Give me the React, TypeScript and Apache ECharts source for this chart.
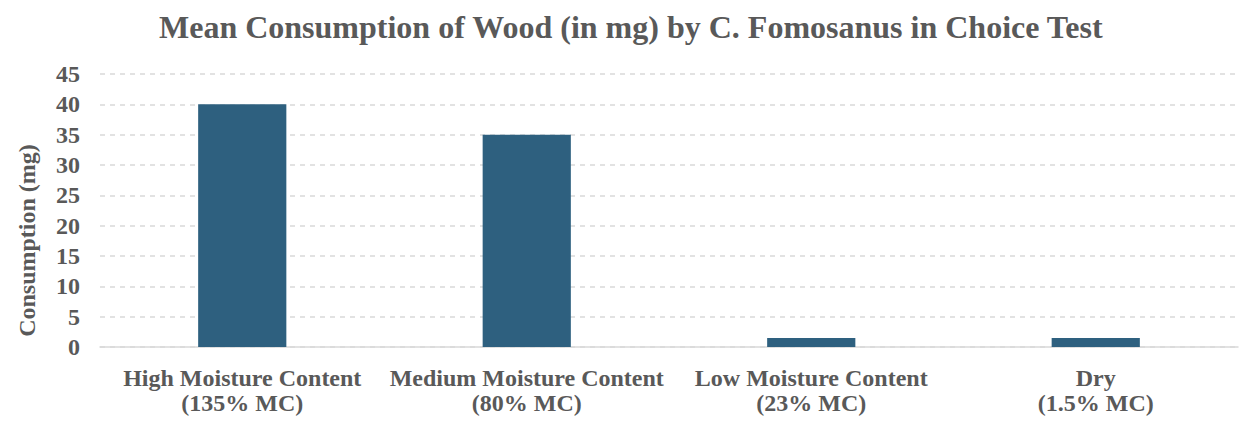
import React, { useEffect, useRef } from "react";
import * as echarts from "echarts";

const categories = [
  "High Moisture Content\n(135% MC)",
  "Medium Moisture Content\n(80% MC)",
  "Low Moisture Content\n(23% MC)",
  "Dry\n(1.5% MC)",
];
const consumption = [40, 35, 1.5, 1.5];

const FONT = "'Liberation Serif', 'Times New Roman', serif";
const GRAY = "#595959";

export default function App() {
  const ref = useRef<HTMLDivElement>(null);
  useEffect(() => {
    if (!ref.current) return;
    const chart = echarts.init(ref.current, undefined, { renderer: "svg" });
    chart.setOption({
      animation: false,
      backgroundColor: "#ffffff",
      title: {
        text: "Mean Consumption of Wood (in mg) by C. Fomosanus in Choice Test",
        left: 154,
        top: 6,
        textStyle: { fontFamily: FONT, fontWeight: "bold", fontSize: 32, color: GRAY },
      },
      grid: { left: 100, right: 10, top: 74, bottom: 79 },
      xAxis: {
        type: "category",
        data: categories,
        axisLine: { show: true, lineStyle: { color: "#d9d9d9", width: 1.5 } },
        axisTick: { show: false },
        axisLabel: {
          fontFamily: FONT,
          fontWeight: "bold",
          fontSize: 24,
          color: GRAY,
          lineHeight: 25,
          margin: 18,
          interval: 0,
        },
      },
      yAxis: {
        type: "value",
        min: 0,
        max: 45,
        interval: 5,
        name: "Consumption (mg)",
        nameLocation: "middle",
        nameGap: 61,
        nameTextStyle: {
          fontFamily: FONT,
          fontWeight: "bold",
          fontSize: 24,
          color: GRAY,
          padding: [0, 60, 0, 0],
        },
        axisLine: { show: false },
        axisTick: { show: false },
        axisLabel: { fontFamily: FONT, fontWeight: "bold", fontSize: 24, color: GRAY, margin: 20 },
        splitLine: { lineStyle: { color: "#d9d9d9", type: [5, 5], width: 1.5 } },
      },
      series: [
        {
          type: "bar",
          data: consumption,
          barWidth: "31%",
          itemStyle: { color: "#2e607f" },
        },
      ],
    });
    return () => chart.dispose();
  }, []);
  return (
    <div
      ref={ref}
      style={{ position: "fixed", left: 0, top: 0, width: 1248, height: 426 }}
    />
  );
}
